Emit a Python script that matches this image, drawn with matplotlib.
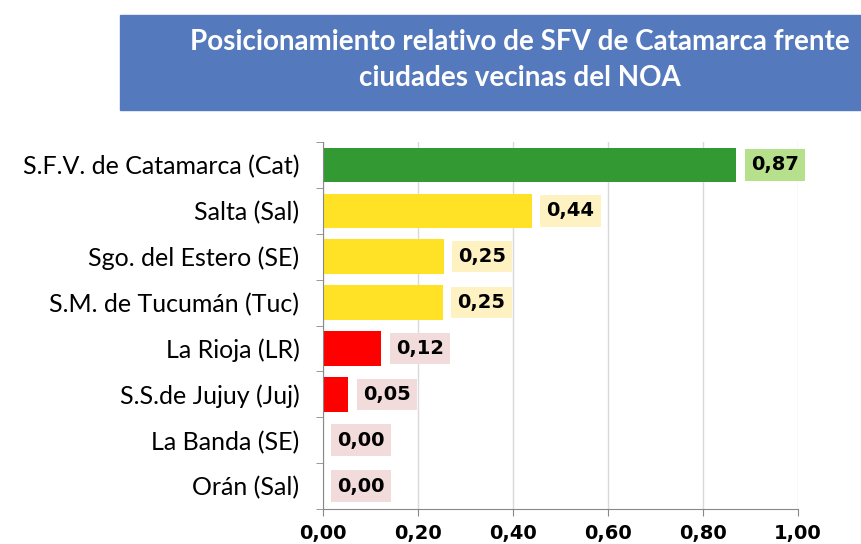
import matplotlib.pyplot as plt
from matplotlib.patches import Rectangle
import numpy as np

# data
ciudades = ["S.F.V. de Catamarca (Cat)", "Salta (Sal)", "Sgo. del Estero (SE)",
            "S.M. de Tucumán (Tuc)", "La Rioja (LR)", "S.S.de Jujuy (Juj)",
            "La Banda (SE)", "Orán (Sal)"]
valores = [0.87, 0.44, 0.254, 0.252, 0.123, 0.053, 0.0, 0.0]
colores = ["#339933", "#FFE226", "#FFE226", "#FFE226", "#FF0000", "#FF0000",
           "#FF0000", "#FF0000"]
fondos = ["#B7E08C", "#FFF2C2", "#FFF2C2", "#FFF2C2", "#F2DCDB", "#F2DCDB",
          "#F2DCDB", "#F2DCDB"]
xticks = [0.0, 0.2, 0.4, 0.6, 0.8, 1.0]
titulo = "Posicionamiento relativo de SFV de Catamarca frente\nciudades vecinas del NOA"

fig = plt.figure(figsize=(8.61, 5.44), dpi=100)

# title box
fig.patches.append(Rectangle((120/861, 1-110/544), 741/861, 95/544,
                             transform=fig.transFigure, color="#5579BD", zorder=0))
fig.text(520/861, 1-60/544, titulo, color="white", ha="center", va="center",
         fontsize=20, fontweight="bold", family="Lato", linespacing=1.45)

ax = fig.add_axes([323/861, 35/544, 475/861, 367/544])
y = np.arange(len(ciudades))
ax.barh(y, valores, height=0.75, color=colores, zorder=2)
ax.set_ylim(len(ciudades)-0.5, -0.5)
ax.set_xlim(0, 1.0)

for i, v in enumerate(valores):
    ax.annotate(f"{v:.2f}".replace(".", ","), (v, i), xytext=(10.5, 0),
                textcoords="offset points", va="center", ha="left",
                fontsize=14, fontweight="bold", family="DejaVu Sans",
                bbox=dict(boxstyle="square,pad=0.32", fc=fondos[i], ec="none"))

ax.set_xticks(xticks)
ax.set_xticklabels([f"{t:.2f}".replace(".", ",") for t in xticks],
                   fontsize=14, fontweight="bold", family="DejaVu Sans")
ax.set_yticks(y)
ax.set_yticklabels(ciudades, fontsize=18, family="Lato")
ax.set_yticks(np.arange(-0.5, len(ciudades)), minor=True)
ax.tick_params(axis="y", which="major", length=0, pad=17)
ax.tick_params(axis="y", which="minor", length=5, color="#888888")
ax.tick_params(axis="x", length=5, color="#888888", pad=6)
ax.grid(axis="x", color="#D9D9D9", linewidth=1, zorder=0)
ax.set_axisbelow(True)
for s in ["top", "right"]:
    ax.spines[s].set_visible(False)
for s in ["left", "bottom"]:
    ax.spines[s].set_color("#888888")

fig.savefig("out.png", dpi=100)
